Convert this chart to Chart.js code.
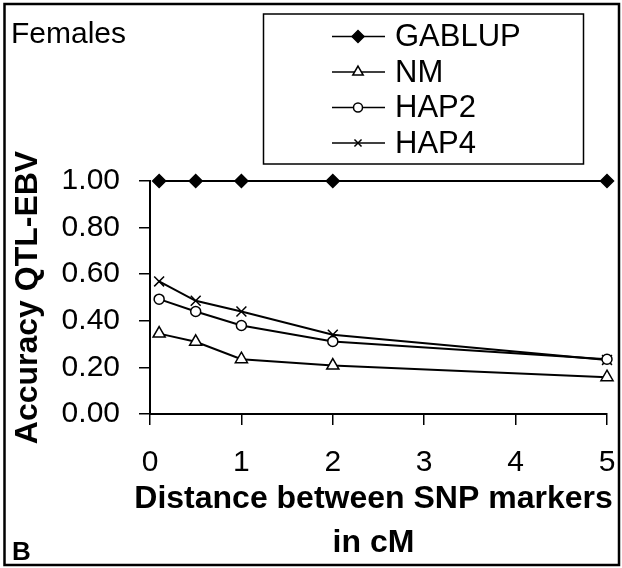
<!DOCTYPE html>
<html>
<head>
<meta charset="utf-8">
<script src="https://cdn.jsdelivr.net/npm/chart.js@4/dist/chart.umd.min.js"></script>
<style>
    html, body { margin: 0; padding: 0; background: #fff; }
    #wrap { width: 622px; height: 568px; position: relative; }
</style>
</head>
<body>
<div id="wrap"><canvas id="accChart" width="622" height="568"></canvas></div>
<script>
// Chart data
const distances = [0.1, 0.5, 1, 2, 5];
const gablup = [1.00, 1.00, 1.00, 1.00, 1.00];
const nm = [0.345, 0.31, 0.235, 0.208, 0.158];
const hap2 = [0.493, 0.44, 0.38, 0.311, 0.235];
const hap4 = [0.569, 0.486, 0.44, 0.34, 0.232];
const seriesNames = ['GABLUP', 'NM', 'HAP2', 'HAP4'];
const xTicks = [0, 1, 2, 3, 4, 5];
const yTicks = [0, 0.2, 0.4, 0.6, 0.8, 1.0];
const xTitle = ['Distance between SNP markers', 'in cM'];

const FONT = '"Liberation Sans", Arial, Helvetica, sans-serif';

function toPoints(values) {
    return values.map((v, i) => ({ x: distances[i], y: v }));
}

function makeSet(label, values, style, radius, fill) {
    return {
        label: label,
        data: toPoints(values),
        borderColor: '#000',
        borderWidth: 2,
        pointStyle: style,
        pointRadius: radius,
        pointHoverRadius: radius,
        pointBorderColor: '#000',
        pointBorderWidth: 1.5,
        pointBackgroundColor: fill,
        tension: 0,
        clip: false
    };
}

// Frame, panel labels, x title (wider than the plot) and boxed legend
const decorations = {
    id: 'decorations',
    afterDraw(chart) {
        const ctx = chart.ctx;
        ctx.save();
        ctx.strokeStyle = '#000';
        ctx.lineWidth = 2.5;
        ctx.strokeRect(4.5, 4, 614.5, 561);

        ctx.fillStyle = '#000';
        ctx.textBaseline = 'alphabetic';
        ctx.textAlign = 'left';
        ctx.font = '30px ' + FONT;
        ctx.fillText('Females', 11, 43);
        ctx.font = 'bold 26px ' + FONT;
        ctx.fillText('B', 12, 560);

        // x axis title
        ctx.textAlign = 'center';
        ctx.font = 'bold 32px ' + FONT;
        ctx.fillText(xTitle[0], 373.5, 508);
        ctx.fillText(xTitle[1], 373.5, 552);
        ctx.textAlign = 'left';

        // legend box
        ctx.lineWidth = 1.5;
        ctx.strokeRect(263.5, 14, 320, 150);
        const rows = [36.5, 72, 107.5, 143];
        const sizes = [6, 6, 4.5, 5];
        chart.data.datasets.forEach((ds, i) => {
            const y = rows[i];
            ctx.strokeStyle = '#000';
            ctx.lineWidth = 1.5;
            ctx.beginPath();
            ctx.moveTo(332, y);
            ctx.lineTo(385, y);
            ctx.stroke();
            ctx.fillStyle = ds.pointBackgroundColor;
            ctx.lineWidth = 1.5;
            Chart.helpers.drawPoint(ctx, { pointStyle: ds.pointStyle, radius: sizes[i], rotation: 0, borderWidth: 1.5 }, 358, y);
            ctx.fillStyle = '#000';
            ctx.font = '31px ' + FONT;
            ctx.textBaseline = 'middle';
            ctx.fillText(seriesNames[i], 395, y + 1);
        });
        ctx.restore();
    }
};

const ctx = document.getElementById('accChart');
new Chart(ctx, {
    type: 'line',
    data: {
        datasets: [
            makeSet(seriesNames[0], gablup, 'rectRot', 6.5, '#000'),
            makeSet(seriesNames[1], nm, 'triangle', 7, '#fff'),
            makeSet(seriesNames[2], hap2, 'circle', 5, '#fff'),
            makeSet(seriesNames[3], hap4, 'crossRot', 7, '#fff')
        ]
    },
    options: {
        responsive: false,
        animation: false,
        events: [],
        layout: {
            padding: { top: 181, right: 15, left: 0, bottom: 0 }
        },
        plugins: {
            legend: { display: false },
            tooltip: { enabled: false }
        },
        scales: {
            x: {
                type: 'linear',
                min: 0,
                max: 5,
                afterFit: function(scale) {
                    scale.height = 154;
                    scale.paddingLeft = 0;
                    scale.paddingRight = 0;
                },
                afterBuildTicks: function(scale) {
                    scale.ticks = xTicks.map(v => ({ value: v }));
                },
                border: { color: '#000', width: 2 },
                grid: {
                    drawOnChartArea: false,
                    drawTicks: true,
                    tickLength: 11,
                    color: '#000',
                    lineWidth: 1.5
                },
                ticks: {
                    color: '#000',
                    padding: 20,
                    maxRotation: 0,
                    font: { family: FONT, size: 30 },
                    callback: function(value) { return value; }
                },
                title: { display: false }
            },
            y: {
                min: 0,
                max: 1,
                afterFit: function(scale) {
                    scale.width = 150;
                    scale.paddingTop = 0;
                    scale.paddingBottom = 0;
                },
                afterBuildTicks: function(scale) {
                    scale.ticks = yTicks.map(v => ({ value: v }));
                },
                border: { color: '#000', width: 2 },
                grid: {
                    drawOnChartArea: false,
                    drawTicks: true,
                    tickLength: 11,
                    color: '#000',
                    lineWidth: 1.5
                },
                ticks: {
                    color: '#000',
                    padding: 19,
                    font: { family: FONT, size: 30 },
                    callback: function(value) { return value.toFixed(2); }
                },
                title: {
                    display: true,
                    text: 'Accuracy QTL-EBV',
                    color: '#000',
                    font: { family: FONT, size: 32, weight: 'bold' },
                    padding: { top: 9, bottom: 0 }
                }
            }
        }
    },
    plugins: [decorations]
});
</script>
</body>
</html>
